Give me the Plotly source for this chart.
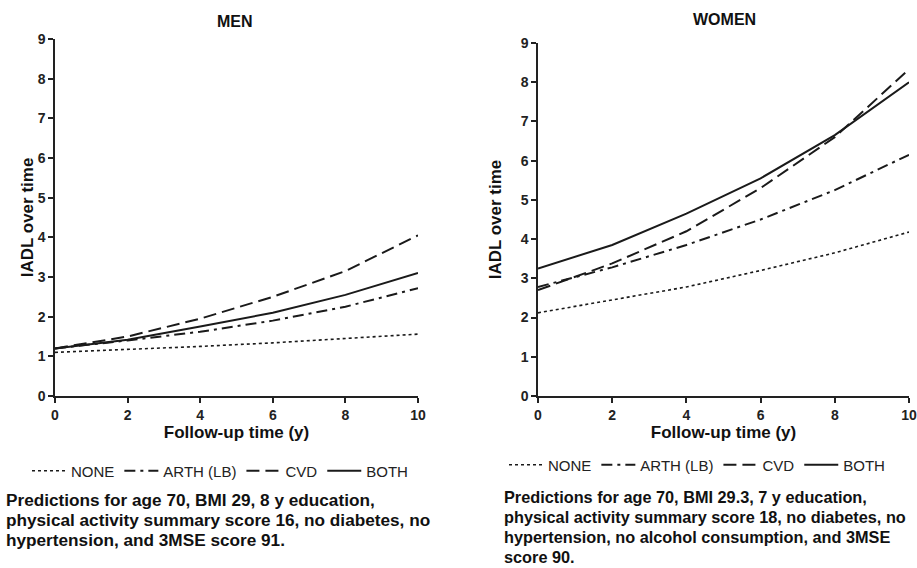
import plotly.graph_objects as go

W, H = 917, 568

years = [0, 2, 4, 6, 8, 10]
series_names = ["NONE", "ARTH (LB)", "CVD", "BOTH"]

men_none = [1.10, 1.17, 1.25, 1.34, 1.45, 1.56]
men_arth = [1.20, 1.40, 1.62, 1.90, 2.25, 2.72]
men_cvd = [1.20, 1.50, 1.95, 2.50, 3.15, 4.05]
men_both = [1.20, 1.42, 1.75, 2.10, 2.55, 3.10]

women_none = [2.12, 2.45, 2.78, 3.20, 3.65, 4.18]
women_arth = [2.78, 3.28, 3.85, 4.50, 5.25, 6.15]
women_cvd = [2.70, 3.38, 4.20, 5.30, 6.60, 8.33]
women_both = [3.25, 3.85, 4.65, 5.55, 6.65, 8.00]

y_ticks = [0, 1, 2, 3, 4, 5, 6, 7, 8, 9]
x_ticks = [0, 2, 4, 6, 8, 10]

men_caption = ["Predictions for age 70, BMI 29, 8 y education,",
               "physical activity summary score 16, no diabetes, no",
               "hypertension, and 3MSE score 91."]
women_caption = ["Predictions for age 70, BMI 29.3, 7 y education,",
                 "physical activity summary score 18, no diabetes, no",
                 "hypertension, no alcohol consumption, and 3MSE",
                 "score 90."]

styles = [
    dict(dash="dot", width=1.6),
    dict(dash="11px,5px,3px,5px", width=2),
    dict(dash="13px,6px", width=2),
    dict(dash="solid", width=2),
]
INK = "#1a1a1a"
FAM = "Liberation Sans, Arial, sans-serif"


def px_x(p):
    return p / W


def px_y(p):
    return 1 - p / H


fig = go.Figure()

men = [men_none, men_arth, men_cvd, men_both]
women = [women_none, women_arth, women_cvd, women_both]

for name, vals, st in zip(series_names, men, styles):
    fig.add_trace(go.Scatter(
        x=years, y=vals, mode="lines", name=name,
        line=dict(color=INK, width=st["width"], dash=st["dash"]),
        xaxis="x", yaxis="y", legend="legend"))
for name, vals, st in zip(series_names, women, styles):
    fig.add_trace(go.Scatter(
        x=years, y=vals, mode="lines", name=name,
        line=dict(color=INK, width=st["width"], dash=st["dash"]),
        xaxis="x2", yaxis="y2", legend="legend2"))

tickfont = dict(family=FAM, size=14, color="#222", weight="bold")


def xaxis(domain, anchor):
    return dict(domain=domain, anchor=anchor, range=[0, 10], tickvals=x_ticks,
                ticks="outside", ticklen=5, tickwidth=1.5, tickcolor="#222",
                showline=True, linecolor="#222", linewidth=1.5, showgrid=False,
                zeroline=False, tickfont=tickfont, automargin=False,
                title=dict(text="<b>Follow-up time (y)</b>",
                           font=dict(family=FAM, size=17, color="#111"), standoff=4))


def yaxis(domain, anchor, standoff):
    return dict(domain=domain, anchor=anchor, range=[0, 9], tickvals=y_ticks,
                ticks="outside", ticklen=5, tickwidth=1.5, tickcolor="#222",
                showline=True, linecolor="#222", linewidth=1.5, showgrid=False,
                zeroline=False, tickfont=tickfont, automargin=False,
                title=dict(text="<b>IADL over time</b>",
                           font=dict(family=FAM, size=17, color="#111"), standoff=standoff))


legend_common = dict(orientation="h", xanchor="left", yanchor="middle",
                     font=dict(family=FAM, size=15, color="#222"),
                     bgcolor="rgba(0,0,0,0)", itemwidth=34, tracegroupgap=0,
                     itemclick=False)

annotations = [
    dict(text="<b>MEN</b>", x=px_x(235), y=px_y(21), xref="paper", yref="paper",
         showarrow=False, font=dict(family=FAM, size=16, color="#111"),
         xanchor="center", yanchor="middle"),
    dict(text="<b>WOMEN</b>", x=px_x(724), y=px_y(20), xref="paper", yref="paper",
         showarrow=False, font=dict(family=FAM, size=16, color="#111"),
         xanchor="center", yanchor="middle"),
]
for i, line in enumerate(men_caption):
    annotations.append(dict(text="<b>" + line + "</b>", x=px_x(4), y=px_y(500 + 20 * i),
                            xref="paper", yref="paper", showarrow=False,
                            xanchor="left", yanchor="middle",
                            font=dict(family=FAM, size=17.2, color="#111")))
for i, line in enumerate(women_caption):
    annotations.append(dict(text="<b>" + line + "</b>", x=px_x(502), y=px_y(497 + 20 * i),
                            xref="paper", yref="paper", showarrow=False,
                            xanchor="left", yanchor="middle",
                            font=dict(family=FAM, size=16.3, color="#111")))

fig.update_layout(
    template="none",
    width=W, height=H,
    margin=dict(l=0, r=0, t=0, b=0, autoexpand=False),
    paper_bgcolor="white", plot_bgcolor="white",
    xaxis=xaxis([px_x(55), px_x(418)], "y"),
    yaxis=yaxis([px_y(396), px_y(39)], "x", 0),
    xaxis2=xaxis([px_x(538), px_x(909)], "y2"),
    yaxis2=yaxis([px_y(396), px_y(43)], "x2", 15),
    legend=dict(legend_common, x=px_x(27), y=px_y(471)),
    legend2=dict(legend_common, x=px_x(504), y=px_y(465)),
    showlegend=True,
    annotations=annotations,
)

fig.write_html(
    "out.html",
    config={"displayModeBar": False},
    post_script="document.body.style.margin='0px';document.body.style.overflow='hidden';",
)
